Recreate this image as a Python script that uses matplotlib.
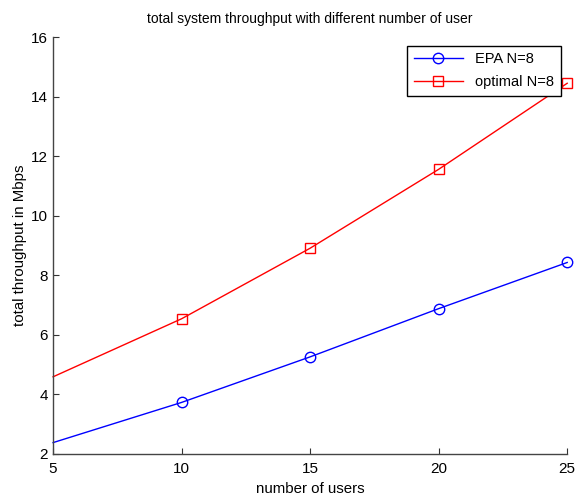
import matplotlib.pyplot as plt
import numpy as np

plt.rcParams['font.family'] = ['Liberation Sans', 'DejaVu Sans']

users = [5, 10, 15, 20, 25]
epa = [2.38, 3.73, 5.26, 6.88, 8.43]
optimal = [4.59, 6.54, 8.91, 11.56, 14.45]

fig = plt.figure(figsize=(5.77, 4.95), dpi=100)
ax = fig.add_axes([0.092, 0.083, 0.891, 0.842])

ax.plot(users, epa, color='blue', lw=1, marker='o', ms=7.5, mfc='none',
        markevery=[1, 2, 3, 4], label='EPA N=8', clip_on=False)
ax.plot(users, optimal, color='red', lw=1, marker='s', ms=7.5, mfc='none',
        markevery=[1, 2, 3, 4], label='optimal N=8', clip_on=False)

ax.set_xlim(5, 25)
ax.set_ylim(2, 16)
ax.set_xticks([5, 10, 15, 20, 25])
ax.set_yticks(np.arange(2, 17, 2))
ax.tick_params(direction='in', length=4, labelsize=11, width=0.8, color='#333')
ax.tick_params(axis='x', pad=6)
for s in ['top', 'right']:
    ax.spines[s].set_visible(False)
for s in ['left', 'bottom']:
    ax.spines[s].set_color('#444')
    ax.spines[s].set_linewidth(1)

ax.set_title('total system throughput with different number of user', fontsize=10, pad=10)
ax.set_xlabel('number of users', fontsize=10.8, labelpad=4)
ax.set_ylabel('total throughput in Mbps', fontsize=10.8, labelpad=3)

leg = ax.legend(loc='upper right', bbox_to_anchor=(0.987, 0.979), borderaxespad=0,
                fontsize=10.5, fancybox=False, framealpha=1, edgecolor='black',
                handlelength=3.4, borderpad=0.45, labelspacing=0.6)
leg.get_frame().set_linewidth(1)

fig.savefig('out.png', dpi=100)
